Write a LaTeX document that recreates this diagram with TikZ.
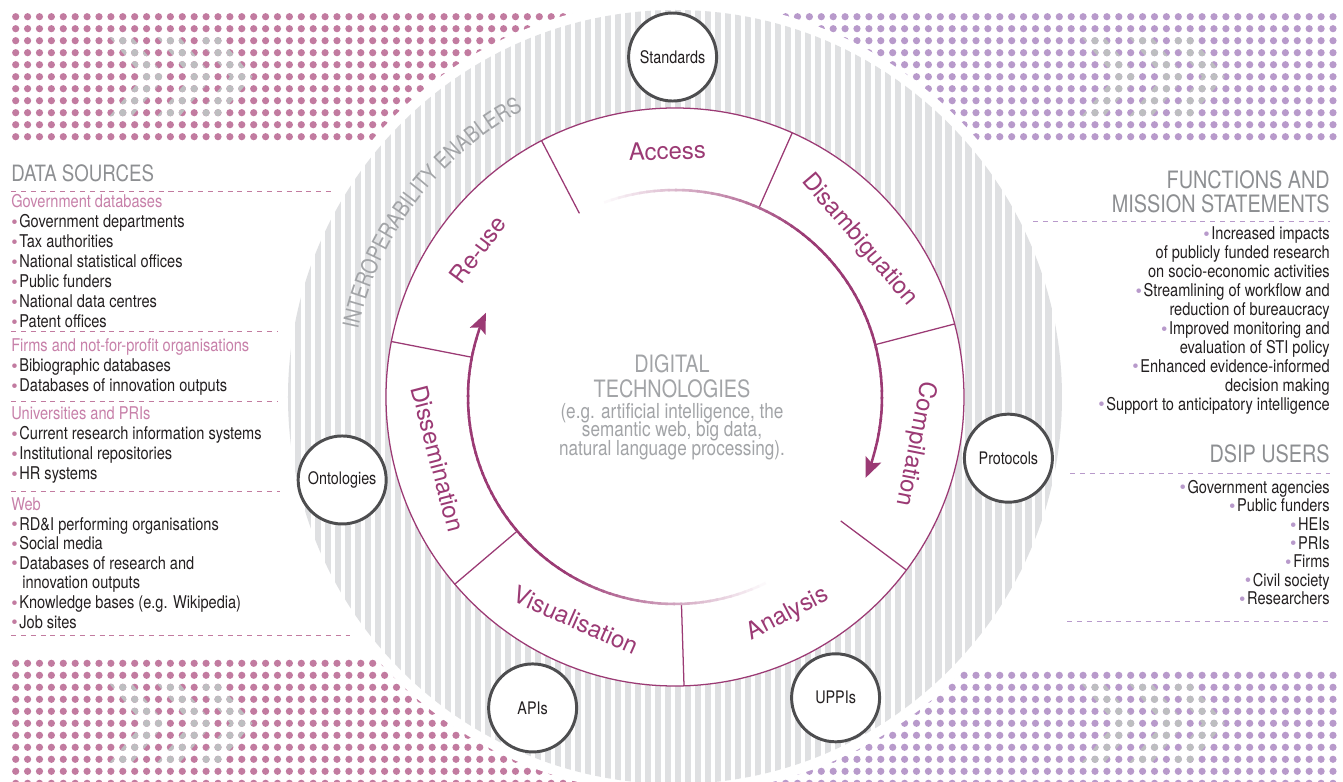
\documentclass[tikz,border=0pt]{standalone}
\usepackage{fontspec}
\setmainfont{TeX Gyre Heros}
\newfontfamily\narrowfont[FakeStretch=0.83]{TeX Gyre Heros}
\usetikzlibrary{arrows.meta,decorations.text,positioning}

\definecolor{wheelpurple}{HTML}{9B3A74}
\definecolor{dotpink}{HTML}{C27BA0}
\definecolor{dotlilac}{HTML}{B89ACB}
\definecolor{dotgrey}{HTML}{BDBEC0}
\definecolor{stripegrey}{HTML}{DFE0E2}
\definecolor{headgrey}{HTML}{8D8F92}
\definecolor{centregrey}{HTML}{A2A4A7}
\definecolor{subpink}{HTML}{C780A9}
\definecolor{bodyink}{HTML}{231F20}
\definecolor{enablerink}{HTML}{4D4D4F}

\newcommand\lbul{\raisebox{-0.4pt}{\rmfamily\color{dotpink}\fontsize{13}{13}\selectfont\textbullet}\hspace{1.2pt}}
\newcommand\rbul{\raisebox{-0.4pt}{\rmfamily\color{dotlilac}\fontsize{13}{13}\selectfont\textbullet}\hspace{1.2pt}}
\newcommand\notelines{\narrowfont\fontsize{14.7}{13.2}\selectfont\lineskiplimit -10pt\relax}

% grey >>> marks over a dot field, #1,#2 = first grey dot of the top row
\newcommand\greychevrons[2]{%
  \begin{scope}[shift={(#1,#2)}, x=0.2975cm, y=-0.3cm]
    \clip foreach \s in {0,4,7.3} {(\s-1.3,-0.5) -- (\s+0.6,-0.5) -- (\s+3.6,3)
      -- (\s+0.6,6.5) -- (\s-1.3,6.5) -- (\s+1.7,3) -- cycle};
    \fill[dotgrey] foreach \col in {-2,...,12} {foreach \row in {-1,...,7}
      {(\col,\row) circle[radius=0.09cm]}};
  \end{scope}}

\tikzset{
  heading/.style={font=\narrowfont\fontsize{16}{17.3}\selectfont, text=headgrey, inner sep=0pt},
  subhead/.style={font=\narrowfont\fontsize{12.5}{14}\selectfont, text=subpink, inner sep=0pt, anchor=base west},
  entry/.style={font=\narrowfont\fontsize{12.5}{14}\selectfont, text=bodyink, inner sep=0pt},
  stage/.style={font=\fontsize{17}{20}\selectfont, text=wheelpurple, inner sep=0pt},
  enabler/.style={circle, draw=enablerink, line width=2.1pt, fill=white, minimum size=2.2cm,
    inner sep=0pt, text=bodyink, font=\narrowfont\fontsize{12.3}{14}\selectfont},
  sourcerule/.style={dotpink, line width=0.7pt, dash pattern=on 3.6pt off 3.4pt},
  userrule/.style={dotlilac, line width=0.7pt, dash pattern=on 3.6pt off 3.4pt},
  spoke/.style={wheelpurple, line width=0.9pt},
  flow/.style={line width=1.8pt},
  flowtip/.style={wheelpurple, line width=1.8pt, -{Stealth[length=0.5cm, width=0.42cm, inset=0.1cm]}}
}

\begin{document}
\begin{tikzpicture}[x=0.025cm, y=0.025cm]
\useasboundingbox (-675,-385) rectangle (668,397);

% dot fields
\fill[dotpink] foreach \col in {0,...,55} {foreach \row in {0,...,10}
  {(-659.3+11.9*\col, 380.3-12*\row) circle[radius=0.09cm]}};
\fill[dotlilac] foreach \col in {0,...,55} {foreach \row in {0,...,10}
  {(658-11.9*\col, 380.3-12*\row) circle[radius=0.09cm]}};
\fill[dotpink] foreach \col in {0,...,55} {foreach \row in {0,...,10}
  {(-659.3+11.9*\col, -266.3-12*\row) circle[radius=0.09cm]}};
\fill[dotlilac] foreach \col in {0,...,55} {foreach \row in {0,...,9}
  {(658-11.9*\col, -278.3-12*\row) circle[radius=0.09cm]}};
\greychevrons{-552.2}{356.3}
\greychevrons{420}{356.3}
\greychevrons{-552.2}{-290.3}
\greychevrons{420}{-290.3}

% white gap and striped band of enablers
\fill[white] (0,0) circle[radius=397];
\begin{scope}
  \clip (0,0) circle[radius=387];
  \foreach \x in {-390,-380,...,390}
    \fill[stripegrey] (\x,-390) rectangle ++(6.5,780);
\end{scope}

\path[decorate, decoration={text along path, text align=center, text color=centregrey,
  text={|\narrowfont\fontsize{16}{16}\selectfont|INTEROPERABILITY ENABLERS}}]
  (172:324) arc[start angle=172, end angle=114, radius=324];

% process wheel
\draw[spoke, fill=white] (0,0) circle[radius=289];
\foreach \ang in {117.5,66.07,14.64,-36.79,-88.21,-139.64,-191.07}
  \draw[spoke] (\ang:207) -- (\ang:289);

\node[stage, rotate=1.8]    (access) at (91.8:246)   {Access};
\node[stage, rotate=-49.6]  (disamb) at (40.4:242)   {Disambiguation};
\node[stage, rotate=-101.1] (compil) at (-11.1:245)  {Compilation};
\node[stage, rotate=27.5]   (analys) at (-62.5:245)  {Analysis};
\node[stage, rotate=-23.9]  (visual) at (-113.9:244) {Visualisation};
\node[stage, rotate=-75.4]  (dissem) at (194.6:245)  {Dissemination};
\node[stage, rotate=53.2]   (reuse)  at (143.2:246)  {Re-use};

% fading arrows inside the wheel
\foreach \ang in {112,110,...,-12} {
  \pgfmathtruncatemacro\pct{min(100,(112-\ang)*1.7)}
  \draw[flow, wheelpurple!\pct!white] (\ang:207) arc[start angle=\ang, end angle=\ang-2.6, radius=207];
}
\draw[flowtip] (-14:207) arc[start angle=-14, end angle=-23, radius=207];
\foreach \ang in {-62,-64,...,-194} {
  \pgfmathtruncatemacro\pct{min(100,(-62-\ang)*1.7)}
  \draw[flow, wheelpurple!\pct!white] (\ang:207) arc[start angle=\ang, end angle=\ang-2.6, radius=207];
}
\draw[flowtip] (-196:207) arc[start angle=-196, end angle=-204, radius=207];

\node[font=\narrowfont\fontsize{17}{17.8}\selectfont, text=centregrey, align=center,
  inner sep=0pt, anchor=north] (tech) at (-3,43) {DIGITAL\\TECHNOLOGIES};
\node[font=\notelines, text=centregrey, align=center, inner sep=0pt,
  below=0.12cm of tech] (techex)
  {(e.g. artificial intelligence, the\\semantic web, big data,\\natural language processing).};

% enablers
\node[enabler] (standards)  at (90.4:340)  {Standards};
\node[enabler] (protocols)  at (-10.4:339) {Protocols};
\node[enabler] (uppis)      at (-61.9:341) {UPPIs};
\node[enabler] (apis)       at (245.4:342) {APIs};
\node[enabler] (ontologies) at (194:343)   {Ontologies};

% data sources
\node[heading, anchor=base west] (sources) at (-664,215) {DATA SOURCES};
\draw[sourcerule] (-664,205.3) -- (-342,205.3);
\node[subhead] (govdb) at (-664,189.5) {Government databases};
\foreach \t [count=\i] in {Government departments, Tax authorities, National statistical offices,
    Public funders, National data centres, Patent offices}
  \node[entry, anchor=base west] (govdb-\i) at (-664,189.5-20*\i) {\lbul\t};
\draw[sourcerule] (-664,65.3) -- (-397,65.3);
\node[subhead] (firms) at (-664,45.5) {Firms and not-for-profit organisations};
\foreach \t [count=\i] in {Bibiographic databases, Databases of innovation outputs}
  \node[entry, anchor=base west] (firms-\i) at (-664,45.5-20*\i) {\lbul\t};
\draw[sourcerule] (-664,-4.7) -- (-398,-4.7);
\node[subhead] (unis) at (-664,-22.5) {Universities and PRIs};
\foreach \t [count=\i] in {Current research information systems, Institutional repositories, HR systems}
  \node[entry, anchor=base west] (unis-\i) at (-664,-22.5-20*\i) {\lbul\t};
\draw[sourcerule] (-664,-94.7) -- (-395,-94.7);
\node[subhead] (web) at (-664,-113.5) {Web};
\foreach \t [count=\i] in {\lbul RD\&I performing organisations, \lbul Social media,
    \lbul Databases of research and, \phantom{\lbul}\,innovation outputs,
    \lbul Knowledge bases (e.g. Wikipedia), \lbul Job sites}
  \node[entry, anchor=base west] (web-\i) at (-664,-113.5-19.6*\i) {\t};
\draw[sourcerule] (-664,-238.7) -- (-325,-238.7);

% functions and users
\node[heading, font=\narrowfont\fontsize{17}{17.3}\selectfont, align=right, anchor=north east]
  (functions) at (655,227) {FUNCTIONS AND\\MISSION STATEMENTS};
\draw[userrule] (358,175.3) -- (655,175.3);
\foreach \t [count=\i] in {\rbul Increased impacts, of publicly funded research,
    on socio-economic activities, \rbul Streamlining of workflow and, reduction of bureaucracy,
    \rbul Improved monitoring and, evaluation of STI policy, \rbul Enhanced evidence-informed,
    decision making, \rbul Support to anticipatory intelligence}
  \node[entry, anchor=base east] (func-\i) at (655,175.9-18.9*\i) {\t};

\node[heading, font=\narrowfont\fontsize{17}{17.3}\selectfont, anchor=base east]
  (users) at (655,-65.7) {DSIP USERS};
\draw[userrule] (395,-76.3) -- (655,-76.3);
\foreach \t [count=\i] in {Government agencies, Public funders, HEIs, PRIs, Firms,
    Civil society, Researchers}
  \node[entry, anchor=base east] (users-\i) at (655,-77.7-18.6*\i) {\rbul\t};
\draw[userrule] (392,-224.7) -- (655,-224.7);
\end{tikzpicture}
\end{document}
